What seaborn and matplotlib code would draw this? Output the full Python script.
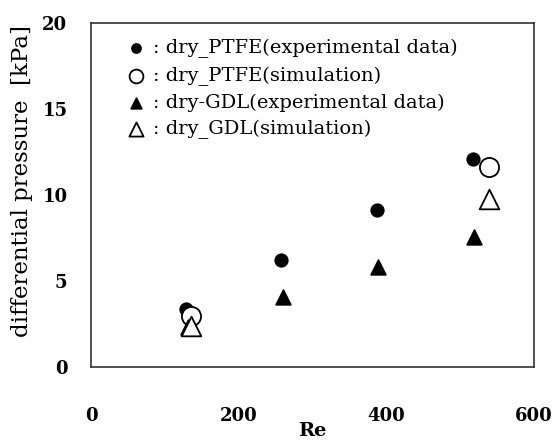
import matplotlib
matplotlib.use("Agg")
import matplotlib.pyplot as plt
import seaborn as sns
import pandas as pd

sns.set_style("white")
plt.rcParams['font.family'] = ['DejaVu Serif']
plt.rcParams['text.color'] = 'black'
plt.rcParams['axes.labelcolor'] = 'black'
plt.rcParams['xtick.color'] = 'black'
plt.rcParams['ytick.color'] = 'black'

re_ptfe_exp = [128, 258, 388, 517]
dp_ptfe_exp = [3.4, 6.2, 9.1, 12.1]
re_ptfe_sim = [135, 539]
dp_ptfe_sim = [2.95, 11.6]
re_gdl_exp = [131, 260, 389, 519]
dp_gdl_exp = [2.3, 4.05, 5.8, 7.55]
re_gdl_sim = [136, 539]
dp_gdl_sim = [2.4, 9.75]

labels = [": dry_PTFE(experimental data)", ": dry_PTFE(simulation)",
          ": dry-GDL(experimental data)", ": dry_GDL(simulation)"]

fig = plt.figure(figsize=(5.52, 4.41), dpi=100)
ax = fig.add_axes([91/552, 1 - 367/441, (534-91)/552, (367-23)/441])

series = [
    (re_ptfe_exp, dp_ptfe_exp, 'o', 'black', 80),
    (re_ptfe_sim, dp_ptfe_sim, 'o', 'white', 190),
    (re_gdl_exp, dp_gdl_exp, '^', 'black', 110),
    (re_gdl_sim, dp_gdl_sim, '^', 'white', 200),
]
for (x, y, m, fc, s), lab in zip(series, labels):
    df = pd.DataFrame({"Re": x, "dp": y})
    sns.scatterplot(data=df, x="Re", y="dp", marker=m, s=s, facecolor=fc,
                    edgecolor='black', linewidth=1.3, ax=ax, label=lab, zorder=3)

ax.set_xlim(0, 600)
ax.set_ylim(0, 20)
ax.set_xticks([0, 200, 400, 600])
ax.set_yticks([0, 5, 10, 15, 20])
ax.tick_params(direction='in', length=5, width=1, labelsize=13, color='#333333')
ax.tick_params(axis='x', pad=29)
ax.tick_params(axis='y', pad=17)
for t in ax.get_xticklabels() + ax.get_yticklabels():
    t.set_fontweight('bold')
for sp in ax.spines.values():
    sp.set_color('#333333')
    sp.set_linewidth(1.2)
ax.set_xlabel("Re", fontsize=14, fontweight='bold')
ax.xaxis.set_label_coords(0.5, -0.16)
ax.set_ylabel("differential pressure  [kPa]", fontsize=16.5)
ax.yaxis.set_label_coords(-0.132, 0.54)

leg = ax.legend(loc='upper left', frameon=False, fontsize=14, handletextpad=-0.1,
                borderaxespad=0.0, labelspacing=0.42, markerscale=0.72,
                bbox_to_anchor=(0.04, 0.976))
fig.savefig("out.png", dpi=100)
